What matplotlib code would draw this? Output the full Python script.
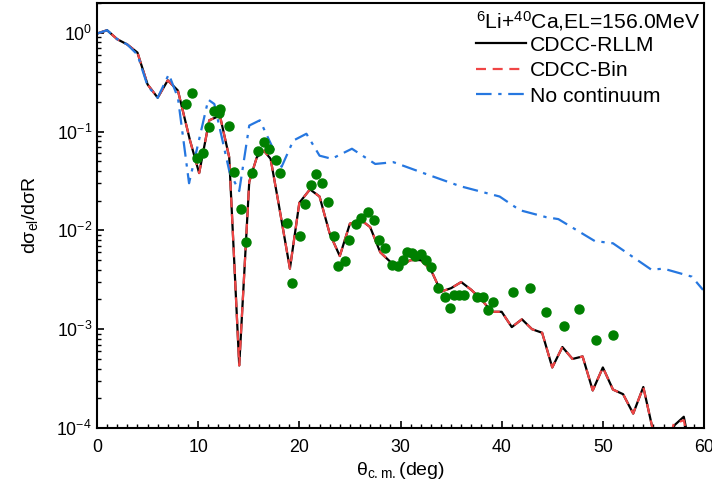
import numpy as np
import matplotlib
matplotlib.use('Agg')
import matplotlib.pyplot as plt
from matplotlib.ticker import MultipleLocator, LogLocator, NullFormatter

plt.rcParams['font.family'] = ['Liberation Sans', 'DejaVu Sans']
plt.rcParams['mathtext.default'] = 'regular'

# CDCC-RLLM (black)
th_rllm = [0, 1, 2, 3, 4, 5, 6, 7, 8, 9.2, 10.1, 11.1, 12.15, 13.07, 14.06, 15.05, 15.8, 16.5,
           17.16, 17.9, 19.07, 20.0, 21.05, 22.0, 23.0, 24.0, 25.0, 26.15, 27.0, 28.0, 29.0, 30.0,
           31, 32, 33, 34, 35, 36, 37, 38, 39, 40, 41, 42, 43, 44, 45, 46, 47, 48, 49, 50,
           51, 52, 53, 54, 55, 56, 57, 58, 59, 60]
xs_rllm = [0.98, 1.06, 0.86, 0.76, 0.63, 0.30, 0.22, 0.33, 0.26, 0.081, 0.038, 0.13, 0.145, 0.055,
           4.3e-4, 0.031, 0.055, 0.064, 0.053, 0.020, 0.0041, 0.019, 0.026, 0.022, 0.0093, 0.0055,
           0.0117, 0.0126, 0.0108, 0.0060, 0.0048, 0.0044, 0.0050, 0.0050, 0.0040, 0.0024, 0.0026,
           0.0030, 0.0025, 0.0020, 0.0015, 0.0015, 0.00105, 0.00126, 0.00100, 0.00092, 4.1e-4,
           6.6e-4, 5.0e-4, 5.3e-4, 2.4e-4, 4.1e-4, 2.45e-4, 2.2e-4, 1.4e-4, 2.6e-4, 9e-5, 4e-5,
           1.05e-4, 1.3e-4, 4e-5, 4e-5]

# CDCC-Bin (red dashed)
th_bin = th_rllm
xs_bin = [0.98, 1.06, 0.86, 0.76, 0.63, 0.30, 0.22, 0.33, 0.26, 0.081, 0.038, 0.13, 0.145, 0.055,
          4.3e-4, 0.031, 0.055, 0.064, 0.053, 0.020, 0.0041, 0.019, 0.026, 0.022, 0.0093, 0.0055,
          0.0117, 0.0126, 0.0108, 0.0060, 0.0048, 0.0044, 0.0050, 0.0050, 0.0040, 0.0024, 0.0026,
          0.0030, 0.0025, 0.0020, 0.0015, 0.0015, 0.00105, 0.00126, 0.00100, 0.00092, 4.1e-4,
          6.6e-4, 5.0e-4, 5.3e-4, 2.4e-4, 4.1e-4, 2.45e-4, 2.2e-4, 1.4e-4, 2.6e-4, 9e-5, 4e-5,
          1.1e-4, 1.2e-4, 4e-5, 4e-5]

# No continuum (blue dash-dot)
th_noc = [0, 1, 2, 3, 4, 5, 6, 7.1, 8, 9.1, 11.0, 11.6, 13.1, 14.06, 15.05, 16.1, 18.25, 19.4,
          20.7, 22.0, 23.2, 25.2, 27.5, 29.3, 32.9, 35.9, 39.8, 41.8, 44.4, 45.6, 49.2, 51.0,
          54.8, 56.0, 58.8, 59.9]
xs_noc = [0.98, 1.06, 0.86, 0.76, 0.60, 0.29, 0.22, 0.38, 0.22, 0.030, 0.21, 0.19, 0.039, 0.025,
          0.115, 0.13, 0.044, 0.081, 0.095, 0.057, 0.053, 0.067, 0.047, 0.049, 0.036, 0.028,
          0.022, 0.016, 0.0136, 0.013, 0.0078, 0.0074, 0.0040, 0.0041, 0.0034, 0.0025]

# experimental data (green)
th_exp = [8.76, 9.36, 9.85, 10.5, 11.1, 11.6, 12.1, 12.15, 13.07, 13.57, 14.2, 14.72, 15.28,
          15.94, 16.5, 17.0, 17.66, 18.08, 18.8, 19.24, 20.03, 20.59, 21.15, 21.6, 22.2, 22.86,
          23.4, 23.85, 24.54, 24.87, 25.6, 26.12, 26.8, 27.37, 27.9, 28.5, 29.2, 29.8, 30.2,
          30.6, 31.16, 31.4, 32.0, 32.5, 33.0, 33.67, 34.36, 34.9, 35.3, 35.8, 36.3, 37.6,
          38.2, 38.6, 39.1, 41.1, 42.8, 44.4, 46.2, 47.6, 49.3, 51.0]
xs_exp = [0.19, 0.244, 0.054, 0.060, 0.112, 0.163, 0.155, 0.170, 0.114, 0.039, 0.0166, 0.0076,
          0.0385, 0.063, 0.078, 0.066, 0.052, 0.038, 0.012, 0.0029, 0.0087, 0.0186, 0.029,
          0.037, 0.030, 0.0194, 0.0088, 0.0044, 0.0049, 0.0079, 0.0117, 0.0134, 0.0155, 0.0128,
          0.0079, 0.0066, 0.0045, 0.0044, 0.0050, 0.0060, 0.0059, 0.0055, 0.0057, 0.0050,
          0.0043, 0.0026, 0.0021, 0.00165, 0.0022, 0.0022, 0.0022, 0.0021, 0.0021, 0.00155,
          0.0019, 0.0024, 0.0026, 0.0015, 0.00108, 0.00161, 7.8e-4, 8.8e-4]

fig = plt.figure(figsize=(7.12, 4.97), dpi=100)
ax = fig.add_axes([0.1362, 0.1388, 0.8526, 0.8552])

ax.plot(th_rllm, xs_rllm, color='black', lw=1.6, label='CDCC-RLLM')
ax.plot(th_bin, xs_bin, color='#f04545', lw=1.6, ls=(0, (4.5, 3)), label='CDCC-Bin')
ax.plot(th_noc, xs_noc, color='#2677e0', lw=1.6, ls=(0, (7, 3, 1.5, 3)), label='No continuum')
ax.plot(th_exp, xs_exp, 'o', color='#008000', ms=6.5, mec='#008000', zorder=5)

ax.set_yscale('log')
ax.set_xlim(0, 60)
ax.set_ylim(1e-4, 2.0)
ax.xaxis.set_major_locator(MultipleLocator(10))
ax.xaxis.set_minor_locator(MultipleLocator(1))
ax.yaxis.set_major_locator(LogLocator(base=10, numticks=10))
ax.yaxis.set_minor_locator(LogLocator(base=10, subs=np.arange(2, 10), numticks=10))
ax.yaxis.set_minor_formatter(NullFormatter())
ax.tick_params(which='major', direction='in', length=5, width=1.2, labelsize=12.8)
ax.tick_params(which='minor', direction='in', length=3, width=1.0)
ax.tick_params(axis='x', pad=8)
for s in ax.spines.values():
    s.set_linewidth(1.5)

ax.set_xlabel('θ$_{c.m.}$(deg)', fontsize=14, labelpad=3)
ax.set_ylabel('dσ$_{el}$/dσR', fontsize=14, labelpad=12)

ax.text(0.624, 0.941, '$^{6}$Li+$^{40}$Ca,EL=156.0MeV', transform=ax.transAxes,
        fontsize=15.2, ha='left', va='baseline')
ax.legend(loc='upper left', bbox_to_anchor=(0.624, 0.923), frameon=False, fontsize=15.2,
          handlelength=2.37, handletextpad=0.18, labelspacing=0.31,
          borderpad=0, borderaxespad=0)

fig.savefig('out.png', dpi=100)
